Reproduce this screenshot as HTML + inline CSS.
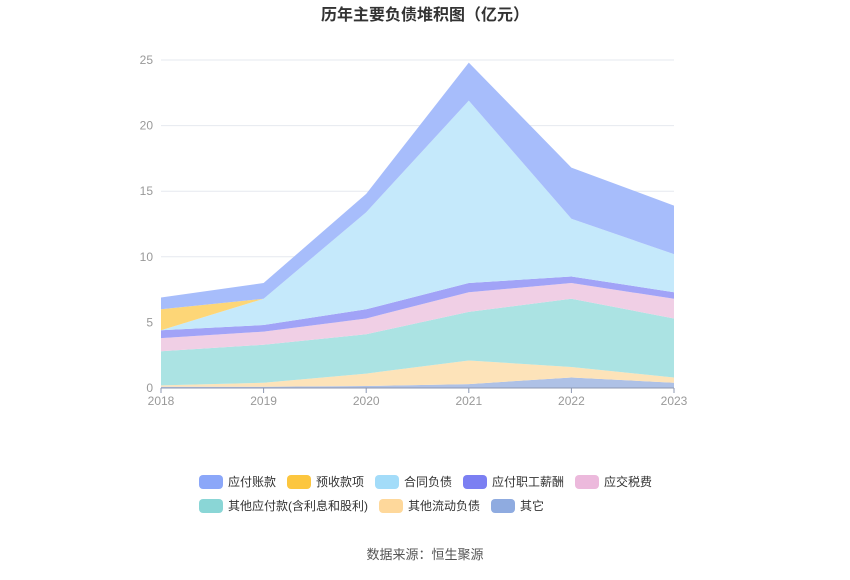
<!DOCTYPE html>
<html><head><meta charset="utf-8"><style>
body{margin:0;background:#fff;width:850px;height:575px;overflow:hidden;font-family:"Liberation Sans","Noto Sans CJK SC",sans-serif;}
</style></head><body>
<svg id="chart" width="850" height="575" xmlns="http://www.w3.org/2000/svg" font-family="Liberation Sans, Noto Sans CJK SC, sans-serif">
<text x="425" y="20" text-anchor="middle" font-size="16" font-weight="bold" fill="#333">历年主要负债堆积图（亿元）</text>
<g id="grid"></g><g id="areas"></g><g id="axes"></g><g id="legend"></g>
<text x="425" y="559" text-anchor="middle" font-size="13" fill="#555">数据来源：恒生聚源</text>
</svg>
<script>
const years=["2018","2019","2020","2021","2022","2023"];
const yTicks=[0,5,10,15,20,25];
const seriesNames=["其它","其他流动负债","其他应付款(含利息和股利)","应交税费","应付职工薪酬","合同负债","预收款项","应付账款"];
const qita=[0.1,0.1,0.15,0.3,0.8,0.4];
const qitaLiudong=[0.1,0.3,0.95,1.8,0.8,0.4];
const qitaYingfu=[2.6,2.9,3.0,3.7,5.2,4.5];
const yingjiaoShui=[1.0,1.0,1.2,1.5,1.2,1.5];
const zhigongXinchou=[0.6,0.5,0.7,0.7,0.5,0.5];
const hetongFuzhai=[0,2.0,7.4,13.9,4.4,2.9];
const yushouKuan=[1.6,0,0,0,0,0];
const yingfuZhang=[0.9,1.2,1.4,2.9,3.9,3.7];
const seriesData=[qita,qitaLiudong,qitaYingfu,yingjiaoShui,zhigongXinchou,hetongFuzhai,yushouKuan,yingfuZhang];
const colors=["#8fabe0","#fed89b","#8ad6d6","#ecb9dc","#7b7ff2","#a3dcf9","#fcc63f","#8ba7f9"];
const fills=["#aec1e6","#fde3b9","#abe3e3","#f0cfe5","#a1a3f7","#c5e9fb","#fdd677","#a7bdfb"];
const X0=161,X1=674,Y0=388,YTOP=60,YMAX=25;
const xs=i=>X0+(X1-X0)*i/(years.length-1);
const ys=v=>Y0-(Y0-YTOP)*v/YMAX;
const NS="http://www.w3.org/2000/svg";
function mk(t,a,p){const e=document.createElementNS(NS,t);for(const k in a)e.setAttribute(k,a[k]);p.appendChild(e);return e;}
const grid=document.getElementById('grid'),areas=document.getElementById('areas'),axes=document.getElementById('axes'),legend=document.getElementById('legend');
yTicks.forEach(t=>{
 const l=mk('line',{x1:X0,x2:X1,y1:ys(t),y2:ys(t),stroke:'#e6e9ef'},grid);
 
 
 const tx=mk('text',{x:X0-8,y:ys(t)+4,'text-anchor':'end','font-size':12,fill:'#999'},axes);
 tx.textContent=t;
 
 
});
let base=years.map(()=>0);
seriesData.forEach((s,k)=>{
 const top=base.map((b,i)=>b+s[i]);
 let d='M'+years.map((_,i)=>xs(i)+','+ys(top[i])).join(' L');
 for(let i=years.length-1;i>=0;i--)d+=' L'+xs(i)+','+ys(base[i]);
 const p=mk('path',{d:d+'Z',fill:fills[k],stroke:'none'},areas);
 
 
 base=top;
});
const ax=mk('line',{x1:X0,x2:X1,y1:Y0,y2:Y0,stroke:'#8c97b0'},axes);


years.forEach((y,i)=>{
 const tk=mk('line',{x1:xs(i),x2:xs(i),y1:Y0,y2:Y0+5,stroke:'#8c97b0'},axes);
 
 
 const t=mk('text',{x:xs(i),y:Y0+17,'text-anchor':'middle','font-size':12,fill:'#999'},axes);
 t.textContent=y;
 
 
});
const legendOrder=[7,6,5,4,3,2,1,0];
const legendPos=[[199,482],[287,482],[375,482],[463,482],[575,482],[199,506],[379,506],[491,506]];
legendOrder.forEach((k,j)=>{
 const [lx,ly]=legendPos[j];
 const g=mk('g',{},legend);
 
 
 mk('rect',{x:lx,y:ly-7,width:24,height:14,rx:4,fill:colors[k]},g);
 const t=mk('text',{x:lx+29,y:ly+4,'font-size':12,fill:'#333'},g);
 t.textContent=seriesNames[k];
});
</script>
</body></html>
